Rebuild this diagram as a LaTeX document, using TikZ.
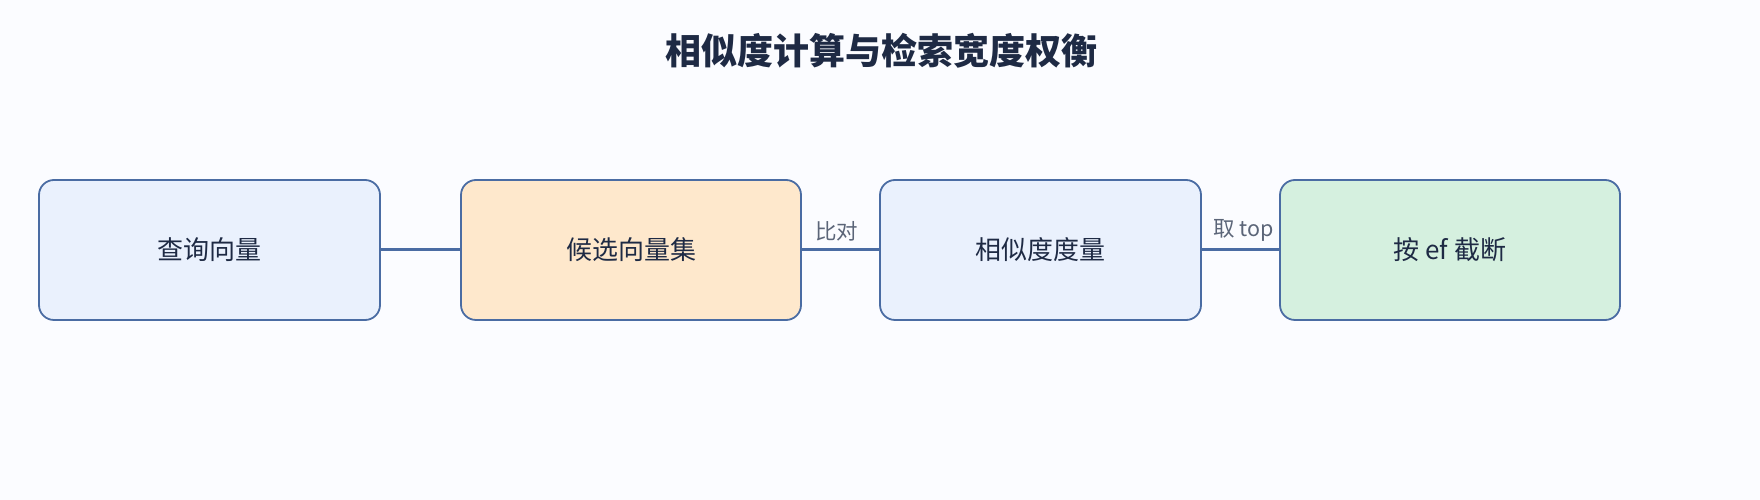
\documentclass[tikz,border=0pt]{standalone}
\usepackage{fontspec}
\setmainfont{Noto Sans CJK SC}
\definecolor{bg}{HTML}{FBFCFF}
\definecolor{edge}{HTML}{4A6CA3}
\definecolor{fillA}{HTML}{EAF1FD}
\definecolor{fillB}{HTML}{FEE8CC}
\definecolor{fillC}{HTML}{D5F0DF}
\definecolor{txt}{HTML}{1E2A44}
\definecolor{lbl}{HTML}{5B6578}
\begin{document}
\begin{tikzpicture}[x=1pt,y=1pt,
  boxstyle/.style={draw=edge, line width=1.8pt, rounded corners=15pt, minimum height=140pt,
    inner sep=0pt, text=txt, font=\fontsize{26}{31}\selectfont},
  linkstyle/.style={draw=edge, line width=3pt},
  lblstyle/.style={text=lbl, font=\fontsize{21.5}{26}\selectfont, inner sep=1pt}]
\fill[bg] (0,0) rectangle (1760,500);
\useasboundingbox (0,0) rectangle (1760,500);
\node[text=txt, font=\fontsize{36}{42}\selectfont\bfseries] (title) at (881,449) {相似度计算与检索宽度权衡};
\node[boxstyle, fill=fillA, minimum width=341pt] (b1) at (209.5,250) {查询向量};
\node[boxstyle, fill=fillB, minimum width=340pt] (b2) at (631,250) {候选向量集};
\node[boxstyle, fill=fillA, minimum width=321pt] (b3) at (1040.5,250) {相似度度量};
\node[boxstyle, fill=fillC, minimum width=340pt] (b4) at (1450,250) {按 ef 截断};
\draw[linkstyle] (b1.east) -- (b2.west);
\draw[linkstyle] (b2.east) -- node[lblstyle, above=6pt, xshift=-4pt] (l1) {比对} (b3.west);
\draw[linkstyle] (b3.east) -- node[lblstyle, above=6pt, xshift=3pt] (l2) {取 top} (b4.west);
\end{tikzpicture}
\end{document}
